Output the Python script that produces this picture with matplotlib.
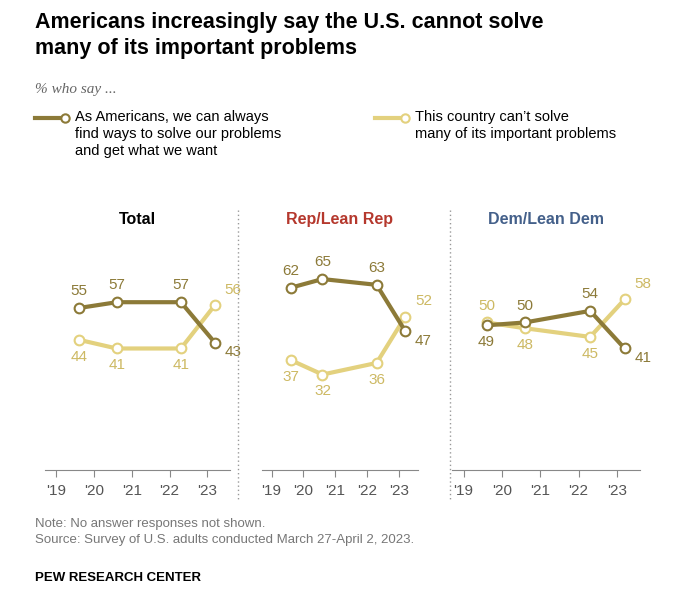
import matplotlib.pyplot as plt
from matplotlib.lines import Line2D

years = [2019.6, 2020.6, 2022.3, 2023.2]
panels = ["Total", "Rep/Lean Rep", "Dem/Lean Dem"]
title_colors = ["#000000", "#B5382D", "#44608A"]
can_solve = [[55, 57, 57, 43], [62, 65, 63, 47], [49, 50, 54, 41]]
cannot_solve = [[44, 41, 41, 56], [37, 32, 36, 52], [50, 48, 45, 58]]
tick_labels = ["'19", "'20", "'21", "'22", "'23"]

DARK = "#8C7A38"
LIGHT = "#E3D17E"
W, H = 680, 609

fig = plt.figure(figsize=(W / 100, H / 100), dpi=100)
plt.rcParams['font.family'] = ['Liberation Sans', 'DejaVu Sans']

def px(x0, y0, x1, y1):
    return [x0 / W, 1 - y1 / H, (x1 - x0) / W, (y1 - y0) / H]

fig.text(35 / W, 1 - 12 / H, "Americans increasingly say the U.S. cannot solve\nmany of its important problems",
         fontsize=15.5, fontweight="bold", va="top", linespacing=1.3)
fig.text(35 / W, 1 - 89 / H, "% who say ...", fontsize=11, style="italic", color="#666666", va="center",
         family="Liberation Serif")

# legend
for x, col, txt in [(35, DARK, "As Americans, we can always\nfind ways to solve our problems\nand get what we want"),
                    (375, LIGHT, "This country can\u2019t solve\nmany of its important problems")]:
    fig.add_artist(Line2D([x / W, (x + 30) / W], [1 - 118 / H] * 2, color=col, lw=3))
    fig.add_artist(Line2D([(x + 30) / W], [1 - 118 / H], marker="o", ms=6, mfc="white", mec=col, mew=1.5))
    fig.text((x + 40) / W, 1 - 110 / H, txt, fontsize=10.5, va="top", linespacing=1.25)

bounds = [(45, 230), (262, 418), (452, 640)]
for i, (x0, x1) in enumerate(bounds):
    ax = fig.add_axes(px(x0, 240, x1, 470))
    ax.set_ylim(-1, 78.5)
    ax.set_xlim(2018.7, 2023.6)
    for vals, col in [(cannot_solve[i], LIGHT), (can_solve[i], DARK)]:
        ax.plot(years, vals, color=col, lw=3, marker="o", ms=7, mfc="white", mec=col, mew=1.5, zorder=3)
    for j, (a, b) in enumerate(zip(can_solve[i], cannot_solve[i])):
        above_dark = a >= b
        if i == 2 and j == 0:
            above_dark = False
        if j == 3:
            ax.annotate(str(a), (years[j], a), xytext=(7, -2 if a < b else 6), textcoords="offset points",
                        ha="left", va="top" if a < b else "bottom", color=DARK, fontsize=11)
            ax.annotate(str(b), (years[j], b), xytext=(7, 6 if b > a else -2), textcoords="offset points",
                        ha="left", va="bottom" if b > a else "top", color="#CDB963", fontsize=11)
        else:
            ax.annotate(str(a), (years[j], a), xytext=(0, 7 if above_dark else -7), textcoords="offset points",
                        ha="center", va="bottom" if above_dark else "top", color=DARK, fontsize=11)
            ax.annotate(str(b), (years[j], b), xytext=(0, -7 if above_dark else 7), textcoords="offset points",
                        ha="center", va="top" if above_dark else "bottom", color="#CDB963", fontsize=11)
    ax.set_xticks([2019, 2020, 2021, 2022, 2023])
    ax.set_xticklabels(tick_labels, fontsize=11, color="#555555")
    ax.tick_params(axis="x", length=5, color="#888888", pad=5)
    ax.set_yticks([])
    for s in ["top", "left", "right"]:
        ax.spines[s].set_visible(False)
    ax.spines["bottom"].set_color("#888888")
    ax.set_title(panels[i], fontsize=11.5, fontweight="bold", color=title_colors[i], pad=0, y=1.07)

for x in (238, 450):
    fig.add_artist(Line2D([x / W] * 2, [1 - 210 / H, 1 - 500 / H], color="#999999", lw=1, ls=(0, (1, 2))))

fig.text(35 / W, 1 - 532 / H, "Note: No answer responses not shown.\nSource: Survey of U.S. adults conducted March 27-April 2, 2023.",
         fontsize=9.5, color="#777777", va="center", linespacing=1.35)
fig.text(35 / W, 1 - 578 / H, "PEW RESEARCH CENTER", fontsize=9.5, fontweight="bold", va="center")

fig.savefig("out.png", dpi=100)
